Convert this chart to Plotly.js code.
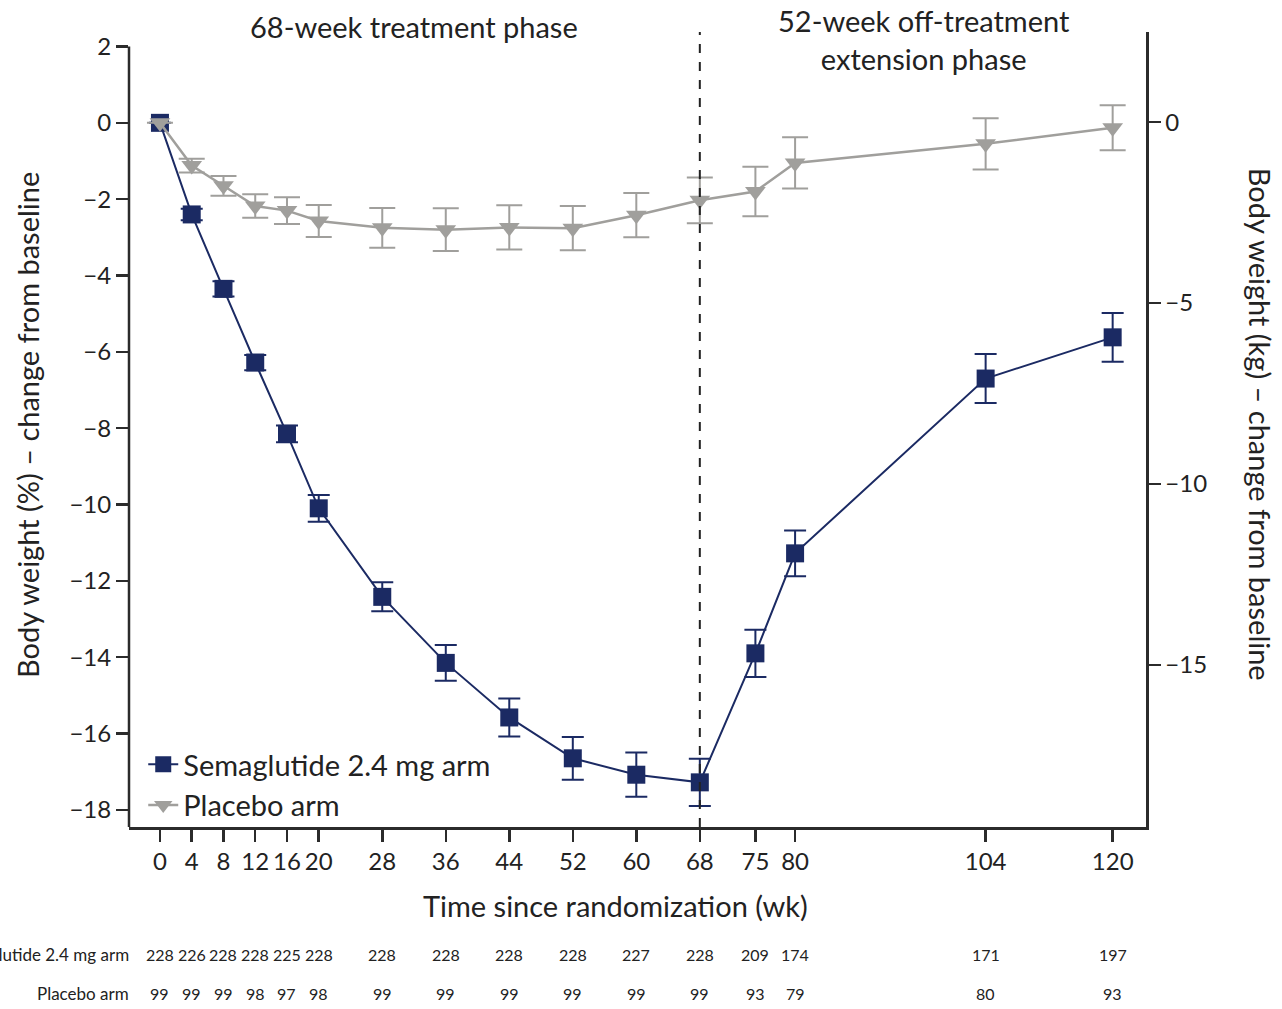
<!DOCTYPE html>
<html>
<head>
<meta charset="utf-8">
<script src="https://cdn.plot.ly/plotly-3.0.1.min.js"></script>
<style>
  html, body { margin: 0; padding: 0; background: #ffffff; }
  #chart { width: 1282px; height: 1009px; }
</style>
</head>
<body>
<div id="chart"></div>
<script>
// Weeks since randomization
const weeks = [0, 4, 8, 12, 16, 20, 28, 36, 44, 52, 60, 68, 75, 80, 104, 120];

// Mean change in body weight (%) and error bar half-widths
const semaPct = [0, -2.4, -4.35, -6.28, -8.15, -10.1, -12.42, -14.15, -15.58, -16.65, -17.08, -17.28, -13.9, -11.28, -6.7, -5.62];
const semaErr = [0, 0.15, 0.2, 0.2, 0.22, 0.35, 0.38, 0.47, 0.5, 0.56, 0.58, 0.62, 0.62, 0.6, 0.64, 0.64];
const placeboPct = [0, -1.12, -1.65, -2.18, -2.3, -2.57, -2.75, -2.8, -2.74, -2.76, -2.42, -2.03, -1.8, -1.05, -0.55, -0.13];
const placeboErr = [0, 0.18, 0.26, 0.31, 0.35, 0.42, 0.52, 0.56, 0.58, 0.58, 0.58, 0.6, 0.65, 0.67, 0.67, 0.59];

// Number of participants at each visit
const semaN = [228, 226, 228, 228, 225, 228, 228, 228, 228, 228, 227, 228, 209, 174, 171, 197];
const placeboN = [99, 99, 99, 98, 97, 98, 99, 99, 99, 99, 99, 99, 93, 79, 80, 93];

// Axis ticks
const pctTicks = [2, 0, -2, -4, -6, -8, -10, -12, -14, -16, -18];
const kgTicks = [0, -5, -10, -15];

const navy = '#1b2a63';
const grey = '#a09f9c';
const axisColor = '#2b2b2b';
const font = 'Lato, "Open Sans", sans-serif';

const semaTrace = {
  x: weeks, y: semaPct, type: 'scatter', mode: 'lines+markers',
  name: 'Semaglutide 2.4 mg arm',
  line: { color: navy, width: 2 },
  marker: { symbol: 'square', size: 18, color: navy },
  error_y: { type: 'data', array: semaErr, visible: true, color: navy, thickness: 2, width: 11 },
  cliponaxis: false
};
const placeboTrace = {
  x: weeks, y: placeboPct, type: 'scatter', mode: 'lines+markers',
  name: 'Placebo arm',
  line: { color: grey, width: 2.5 },
  marker: { symbol: 'triangle-down', size: 18, color: grey },
  error_y: { type: 'data', array: placeboErr, visible: true, color: grey, thickness: 2, width: 13 },
  cliponaxis: false
};
// Secondary kg axis carries no marks of its own
const kgAxisTrace = {
  x: [], y: [], yaxis: 'y2', type: 'scatter', mode: 'markers',
  showlegend: false, hoverinfo: 'skip'
};

const annotations = [];
const baseText = { family: font, color: '#222222' };

// Phase labels above the plot
annotations.push({
  xref: 'x', yref: 'paper', x: 32, y: 1.0075, xanchor: 'center', yanchor: 'middle',
  text: '68-week treatment phase', showarrow: false, font: { ...baseText, size: 29 }
});
annotations.push({
  xref: 'x', yref: 'paper', x: 96.2, y: 0.99, xanchor: 'center', yanchor: 'middle',
  text: '52-week off-treatment<br>extension phase', showarrow: false,
  font: { ...baseText, size: 29 }
});

// Axis titles
annotations.push({
  xref: 'paper', yref: 'paper', x: 0.478, y: -0.099, xanchor: 'center', yanchor: 'middle',
  text: 'Time since randomization (wk)', showarrow: false, font: { ...baseText, size: 29 }
});
annotations.push({
  xref: 'paper', yref: 'paper', x: -0.1, y: 0.506, xanchor: 'center', yanchor: 'middle',
  text: 'Body weight (%) – change from baseline', textangle: -90, showarrow: false,
  font: { ...baseText, size: 29 }
});
annotations.push({
  xref: 'paper', yref: 'paper', x: 1.112, y: 0.506, xanchor: 'center', yanchor: 'middle',
  text: 'Body weight (kg) – change from baseline', textangle: 90, showarrow: false,
  font: { ...baseText, size: 29 }
});

// Numbers-at-risk table
const rowY = [-0.161, -0.209];
const rowLabels = ['Semaglutide 2.4 mg arm', 'Placebo arm'];
const rowValues = [semaN, placeboN];
rowLabels.forEach((lab, r) => {
  annotations.push({
    xref: 'paper', yref: 'paper', x: 0.002, y: rowY[r], xanchor: 'right', yanchor: 'middle',
    text: lab, showarrow: false, font: { ...baseText, size: 17 }
  });
  weeks.forEach((w, i) => {
    annotations.push({
      xref: 'x', yref: 'paper', x: w, y: rowY[r], xanchor: 'center', yanchor: 'middle',
      text: String(rowValues[r][i]), showarrow: false, font: { ...baseText, size: 16 }
    });
  });
});

const shapes = [
  // end of treatment marker
  { type: 'line', xref: 'x', yref: 'paper', x0: 68, x1: 68, y0: 0, y1: 1,
    line: { color: '#222222', width: 2, dash: 'dash' } },
  // left axis spine runs only up to the top tick
  { type: 'line', xref: 'paper', yref: 'y', x0: 0, x1: 0, y0: -18.45, y1: 2,
    line: { color: axisColor, width: 2.5 } }
];

const layout = {
  width: 1282, height: 1009,
  margin: { l: 129, r: 136, t: 32, b: 182 },
  paper_bgcolor: '#ffffff', plot_bgcolor: '#ffffff',
  font: { family: font, color: '#222222' },
  showlegend: true,
  legend: {
    x: 0.014, y: -0.005, xanchor: 'left', yanchor: 'bottom',
    bgcolor: 'rgba(0,0,0,0)', font: { family: font, size: 29, color: '#222222' },
    tracegroupgap: 0, itemwidth: 30
  },
  xaxis: {
    range: [-3.9, 124.2], tickvals: weeks, ticktext: weeks.map(String),
    ticks: 'outside', ticklen: 12, tickwidth: 2.5, tickcolor: axisColor,
    showline: true, linecolor: axisColor, linewidth: 2.5,
    showgrid: false, zeroline: false,
    tickfont: { family: font, size: 24, color: '#222222' }
  },
  yaxis: {
    range: [-18.45, 2.38], tickvals: pctTicks,
    ticks: 'outside', ticklen: 12, tickwidth: 2.5, tickcolor: axisColor,
    showline: false, showgrid: false, zeroline: false,
    tickfont: { family: font, size: 24, color: '#222222' }
  },
  yaxis2: {
    overlaying: 'y', side: 'right',
    range: [-19.48, 2.49], tickvals: kgTicks,
    ticks: 'outside', ticklen: 12, tickwidth: 2.5, tickcolor: axisColor,
    showline: true, linecolor: axisColor, linewidth: 2.5,
    showgrid: false, zeroline: false,
    tickfont: { family: font, size: 24, color: '#222222' }
  },
  annotations: annotations,
  shapes: shapes
};

Plotly.newPlot('chart', [semaTrace, placeboTrace, kgAxisTrace], layout, { staticPlot: true });
</script>
</body>
</html>
